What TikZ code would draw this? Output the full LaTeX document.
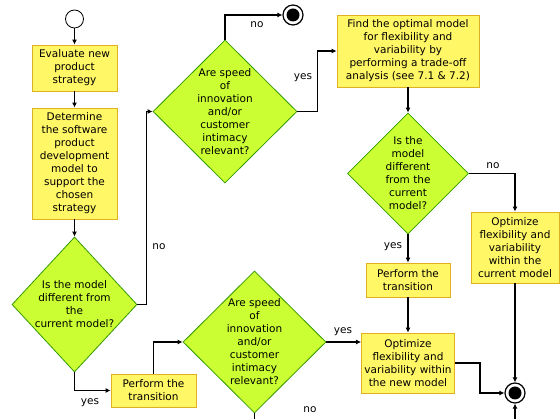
\documentclass[tikz,border=0pt]{standalone}
\usepackage{fontspec}
\setmainfont{DejaVu Sans}
\usetikzlibrary{shapes.geometric,arrows.meta,calc}
\definecolor{boxfill}{HTML}{FFF766}
\definecolor{boxline}{HTML}{E0B020}
\definecolor{diafill}{HTML}{CCFF33}
\definecolor{dialine}{HTML}{339900}
\begin{document}
\begin{tikzpicture}[x=1pt,y=-1pt,
 font=\fontsize{10.5}{13}\selectfont,
 procbox/.style={draw=boxline, fill=boxfill, line width=0.8pt, inner sep=0pt, align=center},
 decbox/.style={diamond, draw=dialine, fill=diafill, line width=0.8pt, inner sep=0pt},
 dtext/.style={align=center, inner sep=0pt},
 flow/.style={line width=1.4pt, -{Latex[length=5pt,width=5pt]}},
 plainline/.style={line width=1.4pt},
 lbl/.style={inner sep=0pt},
 endouter/.style={circle, draw, fill=white, line width=1.2pt, minimum size=20, inner sep=0pt},
 endinner/.style={circle, fill=black, minimum size=13, inner sep=0pt}
]
\useasboundingbox (0,0) rectangle (560,419);

% nodes
\node[circle,draw,line width=0.8pt,minimum size=18,inner sep=0pt] (s) at (74.5,19) {};
\node[procbox,minimum width=85,minimum height=46] (b1) at (74.5,68) {Evaluate new\\product\\strategy};
\node[procbox,minimum width=85,minimum height=111] (b2) at (74.5,163.5) {Determine\\the software\\product\\development\\model to\\support the\\chosen\\strategy};
\node[decbox,minimum width=125,minimum height=135] (d1) at (74.5,304.5) {};
\node[dtext] (d1t) at (d1) {Is the model\\different from\\the\\current model?};

\node[decbox,minimum width=144,minimum height=143] (d2) at (225,111.5) {};
\node[dtext] (d2t) at (d2) {Are speed\\of\\innovation\\and/or\\customer\\intimacy\\relevant?};

\node[endouter] (e0) at (293,15) {};
\node[endinner] (e0i) at (e0) {};

\node[procbox,minimum width=142,minimum height=72] (b3) at (408,51) {Find the optimal model\\for flexibility and\\variability by\\performing a trade-off\\analysis (see 7.1 \& 7.2)};

\node[decbox,minimum width=121,minimum height=121] (d3) at (408,173.5) {};
\node[dtext] (d3t) at (d3) {Is the\\model\\different\\from the\\current\\model?};

\node[procbox,minimum width=88,minimum height=71] (b4) at (515,247.5) {Optimize\\flexibility and\\variability\\within the\\current model};

\node[procbox,minimum width=84,minimum height=34] (b5) at (408,280) {Perform the\\transition};

\node[procbox,minimum width=93,minimum height=60] (b6) at (408,363) {Optimize\\flexibility and\\variability within\\the new model};

\node[endouter] (e1) at (515,393) {};
\node[endinner] (e1i) at (e1) {};

\node[decbox,minimum width=143,minimum height=142] (d4) at (254.5,342) {};
\node[dtext] (d4t) at (d4) {Are speed\\of\\innovation\\and/or\\customer\\intimacy\\relevant?};

\node[procbox,minimum width=85,minimum height=33] (b7) at (153.5,390.5) {Perform the\\transition};

\coordinate (below1) at (515,440);
\coordinate (below2) at (254.5,440);

% connectors
\draw[flow] (s) -- (b1);
\draw[flow] (b1) -- (b2);
\draw[flow] (b2) -- (d1);
\draw[flow] (d1.east) -- ++(9,0) |- (d2.west);
\draw[flow] (d2.north) |- (e0.west);
\draw[flow] (d2.east) -- ++(20,0) |- (b3.west);
\draw[flow] (b3) -- (d3);
\draw[flow] (d3.east) -| (b4.north);
\draw[flow] (d3) -- (b5);
\draw[flow] (b5) -- (b6);
\draw[flow] (b6.east) -- ++(25,0) |- (e1.west);
\draw[flow] (b4) -- (e1);
\draw[flow] (below1) -- (e1.south);
\draw[flow] (d4.east) -- (d4.east -| b6.west);
\draw[plainline] (d4.south) -- (below2);
\draw[flow] (d1.south) |- (b7.west);
\draw[flow] (b7.north) |- (d4.west);

% labels
\node[lbl] (l1) at (159,247) {no};
\node[lbl] (l2) at (257,25) {no};
\node[lbl] (l3) at (303,78) {yes};
\node[lbl] (l4) at (493,166) {no};
\node[lbl] (l5) at (393,247) {yes};
\node[lbl] (l6) at (343,332) {yes};
\node[lbl] (l7) at (310,410) {no};
\node[lbl] (l8) at (90,403) {yes};
\end{tikzpicture}
\end{document}
